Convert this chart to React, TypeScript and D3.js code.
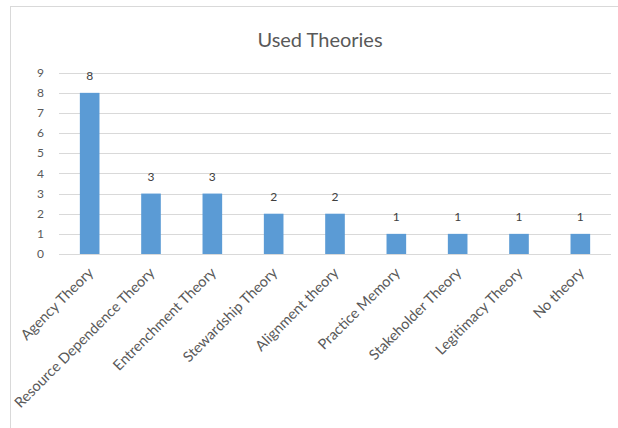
import { useEffect, useRef } from "react";
import * as d3 from "d3";

const theories = [
  "Agency Theory",
  "Resource Dependence Theory",
  "Entrenchment Theory",
  "Stewardship Theory",
  "Alignment theory",
  "Practice Memory",
  "Stakeholder Theory",
  "Legitimacy Theory",
  "No theory",
];
const counts = [8, 3, 3, 2, 2, 1, 1, 1, 1];
const yTicks = [0, 1, 2, 3, 4, 5, 6, 7, 8, 9];
const title = "Used Theories";

export default function App() {
  const ref = useRef<SVGSVGElement>(null);

  useEffect(() => {
    document.body.style.margin = "0";
    const svg = d3.select(ref.current);
    svg.selectAll("*").remove();

    const W = 618;
    const H = 428;
    const font = "Lato, 'Open Sans', sans-serif";

    // plot area
    const left = 59, right = 611, top = 72.7, bottom = 254;

    const x = d3.scaleBand<string>()
      .domain(theories)
      .range([left, right])
      .paddingInner(0.68)
      .paddingOuter(0.34);

    const y = d3.scaleLinear().domain([0, 9]).range([bottom, top]);

    // chart frame (only top and left edges visible)
    svg.append("rect")
      .attr("x", 10.5)
      .attr("y", 6.5)
      .attr("width", W + 20)
      .attr("height", H + 20)
      .attr("fill", "#fff")
      .attr("stroke", "#d9d9d9")
      .attr("stroke-width", 1);

    // title
    svg.append("text")
      .attr("x", 320)
      .attr("y", 47)
      .attr("text-anchor", "middle")
      .attr("font-family", font)
      .attr("font-size", "20px")
      .attr("fill", "#595959")
      .text(title);

    // gridlines
    svg.append("g")
      .selectAll("line")
      .data(yTicks)
      .enter()
      .append("line")
      .attr("x1", left)
      .attr("x2", right)
      .attr("y1", d => Math.round(y(d)) + 0.5)
      .attr("y2", d => Math.round(y(d)) + 0.5)
      .attr("stroke", "#d9d9d9")
      .attr("stroke-width", 1);

    // y tick labels
    svg.append("g")
      .selectAll("text")
      .data(yTicks)
      .enter()
      .append("text")
      .attr("x", 44)
      .attr("y", d => y(d))
      .attr("dy", "0.35em")
      .attr("text-anchor", "end")
      .attr("font-family", font)
      .attr("font-size", "12px")
      .attr("fill", "#595959")
      .text(d => d);

    // bars
    svg.append("g")
      .selectAll("rect")
      .data(counts)
      .enter()
      .append("rect")
      .attr("x", (_, i) => x(theories[i])!)
      .attr("y", d => y(d))
      .attr("width", x.bandwidth())
      .attr("height", d => bottom - y(d))
      .attr("fill", "#5b9bd5");

    // value labels
    svg.append("g")
      .selectAll("text")
      .data(counts)
      .enter()
      .append("text")
      .attr("x", (_, i) => x(theories[i])! + x.bandwidth() / 2)
      .attr("y", d => y(d) - 13)
      .attr("text-anchor", "middle")
      .attr("font-family", font)
      .attr("font-size", "12px")
      .attr("fill", "#404040")
      .text(d => d);

    // category labels, rotated
    svg.append("g")
      .selectAll("text")
      .data(theories)
      .enter()
      .append("text")
      .attr("transform", d => `translate(${x(d)! + x.bandwidth() / 2 + 1},${bottom + 16}) rotate(-45)`)
      .attr("text-anchor", "end")
      .attr("dy", "0.35em")
      .attr("font-family", font)
      .attr("font-size", "14.5px")
      .attr("fill", "#595959")
      .text(d => d);
  }, []);

  return <svg ref={ref} width={618} height={428} style={{ display: "block" }} />;
}
